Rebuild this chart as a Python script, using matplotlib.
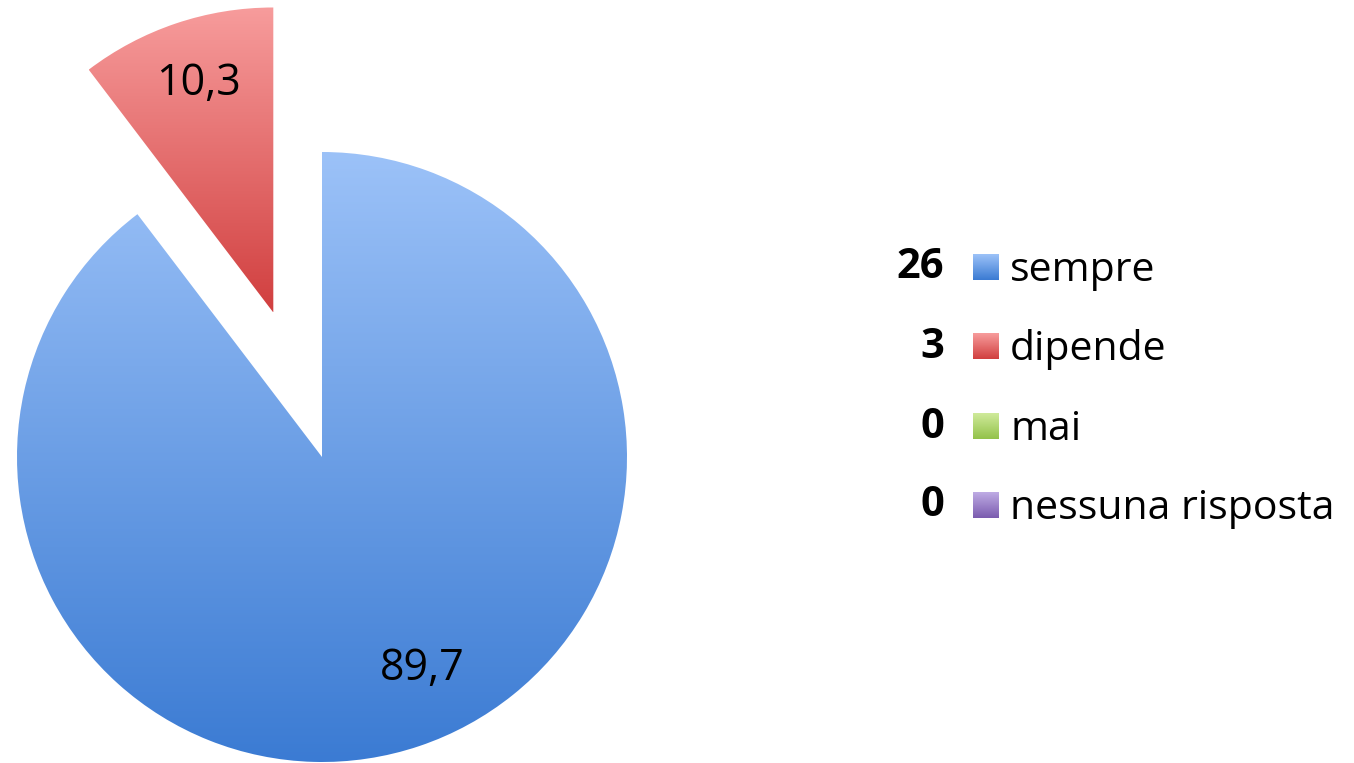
import numpy as np
import matplotlib
matplotlib.use("Agg")
import matplotlib.pyplot as plt
from matplotlib.colors import LinearSegmentedColormap

# data
categories = ["sempre", "dipende", "mai", "nessuna risposta"]
counts = [26, 3, 0, 0]
pct_labels = ["89,7", "10,3"]
explode = [0, 0.5, 0, 0]

# gradient colours (top, bottom) per category
grad_colors = [
    ("#9cc2f8", "#3b7bd3"),
    ("#f79c9c", "#d13f3f"),
    ("#d2ec9e", "#93c24a"),
    ("#c1aee6", "#7b5caf"),
]

W, H = 1354, 763
plt.rcParams["font.family"] = ["Open Sans", "DejaVu Sans"]

fig = plt.figure(figsize=(W / 100, H / 100), dpi=100)

# pie axes: centre at (322, 457) px, radius 305 px
cx, cy, R = 322, 457, 305
ax_w = 700
ax = fig.add_axes([0, 0, ax_w / W, 1])

wedges, _ = ax.pie(
    counts,
    explode=explode,
    startangle=90,
    counterclock=False,
    radius=1,
    center=(0, 0),
    frame=True,
    wedgeprops=dict(linewidth=0),
)
ax.set_xlim(-cx / R, (ax_w - cx) / R)
ax.set_ylim((cy - H) / R, cy / R)
ax.set_aspect("auto")
ax.axis("off")

# vertical gradients clipped to each wedge
for w, (top, bot), n in zip(wedges, grad_colors, counts):
    if n == 0:
        continue
    w.set_facecolor("none")
    cmap = LinearSegmentedColormap.from_list("g", [bot, top])
    ext = w.get_path().get_extents(w.get_patch_transform())
    grad = np.linspace(0, 1, 256).reshape(-1, 1)
    im = ax.imshow(grad, cmap=cmap, origin="lower", aspect="auto",
                   extent=[ext.x0, ext.x1, ext.y0, ext.y1],
                   interpolation="bilinear", zorder=1)
    im.set_clip_path(w)

# percentage labels
label_pos = [(0.33, -0.695), (-0.405, 1.225)]
for txt, (lx, ly) in zip(pct_labels, label_pos):
    ax.text(lx, ly, txt, fontsize=31, ha="center", va="center",
            color="#000000", zorder=3)

# legend with counts
row_y = [267, 346, 426, 505]
sq = 26
for name, n, (top, bot), yy in zip(categories, counts, grad_colors, row_y):
    fig.text(944 / W, 1 - (yy + 1) / H, str(n), fontsize=30, fontweight="bold",
             ha="right", va="center", color="#000000")
    sax = fig.add_axes([973 / W, 1 - (yy + sq / 2) / H, sq / W, sq / H])
    cmap = LinearSegmentedColormap.from_list("g", [bot, top])
    sax.imshow(np.linspace(0, 1, 64).reshape(-1, 1), cmap=cmap, origin="lower",
               aspect="auto", interpolation="bilinear")
    sax.axis("off")
    fig.text(1010 / W, 1 - (yy + 4) / H, name, fontsize=29.5,
             ha="left", va="center", color="#000000")

fig.savefig("out.png", dpi=100)
